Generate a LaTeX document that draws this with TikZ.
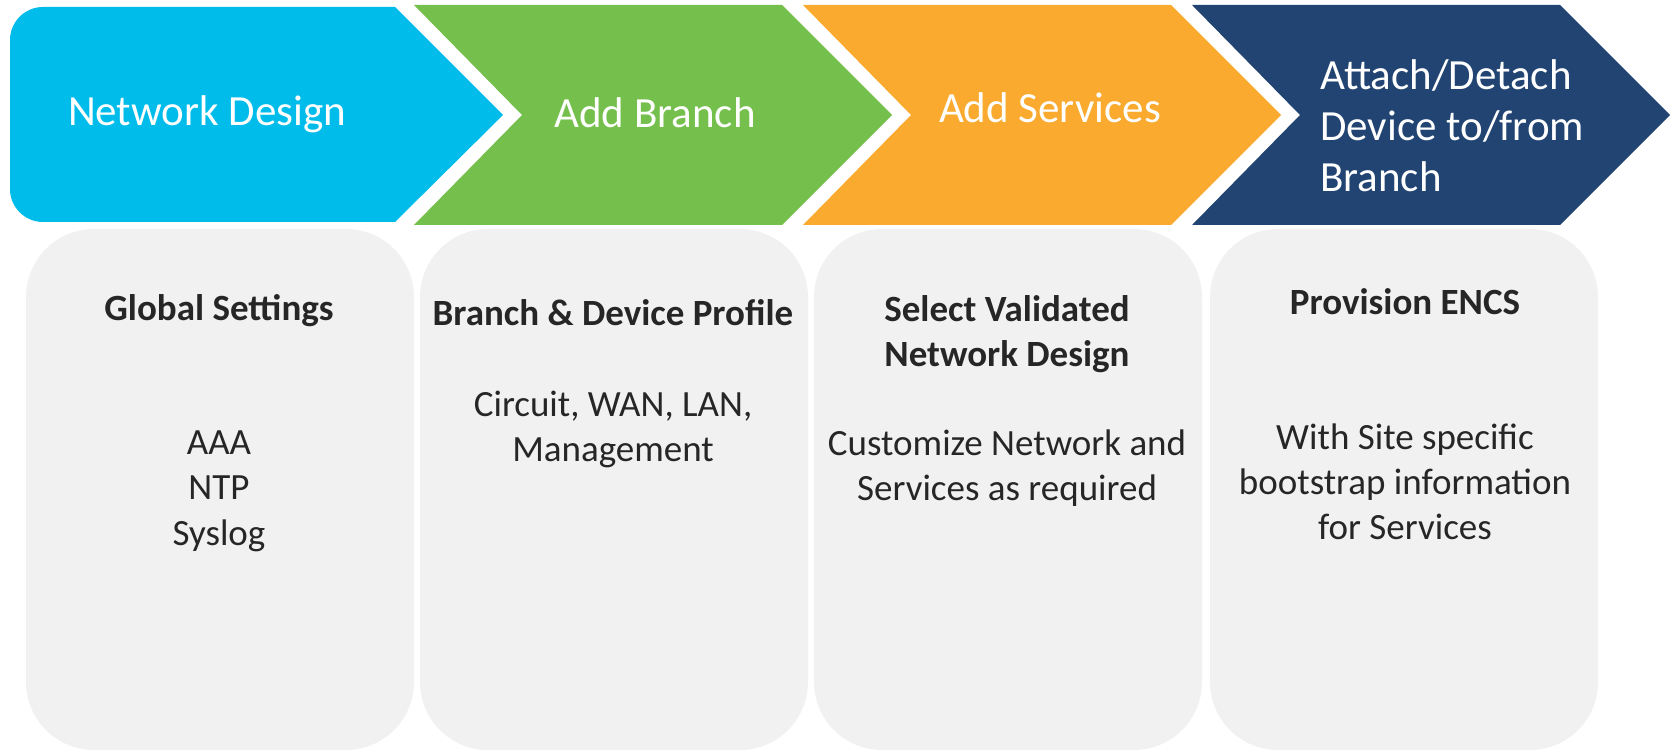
\documentclass[tikz,border=0pt]{standalone}
\usepackage{fontspec}
\setmainfont{Carlito}
\definecolor{cblue}{HTML}{00BCEA}
\definecolor{cgreen}{HTML}{75BF4C}
\definecolor{corange}{HTML}{F9AA2F}
\definecolor{cnavy}{HTML}{214472}
\definecolor{cbox}{HTML}{F1F1F1}
\definecolor{ctext}{HTML}{262626}
\tikzset{
  head/.style={text=white, inner sep=0pt, anchor=base, font=\fontsize{43}{51}\selectfont},
  headl/.style={head, anchor=base west},
  panel/.style={fill=cbox, draw=none, rounded corners=68pt, minimum width=388pt, minimum height=521pt, inner sep=0pt},
  ttl/.style={text=ctext, inner sep=0pt, anchor=base, font=\fontsize{37}{45}\selectfont\bfseries},
  txt/.style={text=ctext, inner sep=0pt, anchor=base, font=\fontsize{37}{45}\selectfont},
}
\begin{document}
\begin{tikzpicture}[x=1pt,y=-1pt]
\useasboundingbox (0,0) rectangle (1673,751);
% chevrons
\fill[cblue] (503,115) -- (395,222) -- (43,222) .. controls (24.8,222) and (10,207.2) .. (10,189)
  -- (10,40) .. controls (10,21.8) and (24.8,7) .. (43,7) -- (395,7) -- cycle;
\fill[cgreen] (414,5) -- (782,5) -- (892,115) -- (782,225) -- (414,225) -- (522,115) -- cycle;
\fill[corange] (803,5) -- (1171,5) -- (1281,115) -- (1171,225) -- (803,225) -- (911,115) -- cycle;
\fill[cnavy] (1192,5) -- (1560,5) -- (1670,115) -- (1560,225) -- (1192,225) -- (1300,115) -- cycle;
\node[head] (h1) at (207,126) {Network Design};
\node[head] (h2) at (655,128) {Add Branch};
\node[head] (h3) at (1050,123) {Add Services};
\node[headl] (h4a) at (1320,90) {Attach/Detach};
\node[headl] (h4b) at (1320,141) {Device to/from};
\node[headl] (h4c) at (1320,192) {Branch};
% panels
\node[panel] (p1) at (220,489.5) {};
\node[panel] (p2) at (614,489.5) {};
\node[panel] (p3) at (1008,489.5) {};
\node[panel] (p4) at (1404,489.5) {};
\node[ttl] (t1) at (219,320) {Global Settings};
\node[txt] (a1) at (219,454) {AAA};
\node[txt] (a2) at (219,499) {NTP};
\node[txt] (a3) at (219,545) {Syslog};
\node[ttl] (t2) at (613,326) {Branch \& Device Profile};
\node[txt] (b1) at (613,416) {Circuit, WAN, LAN,};
\node[txt] (b2) at (613,461) {Management};
\node[ttl] (t3a) at (1007,321) {Select Validated};
\node[ttl] (t3b) at (1007,366) {Network Design};
\node[txt] (c1) at (1007,455) {Customize Network and};
\node[txt] (c2) at (1007,500) {Services as required};
\node[ttl] (t4) at (1405,315) {Provision ENCS};
\node[txt] (d1) at (1405,449) {With Site specific};
\node[txt] (d2) at (1405,494) {bootstrap information};
\node[txt] (d3) at (1405,539) {for Services};
\end{tikzpicture}
\end{document}
